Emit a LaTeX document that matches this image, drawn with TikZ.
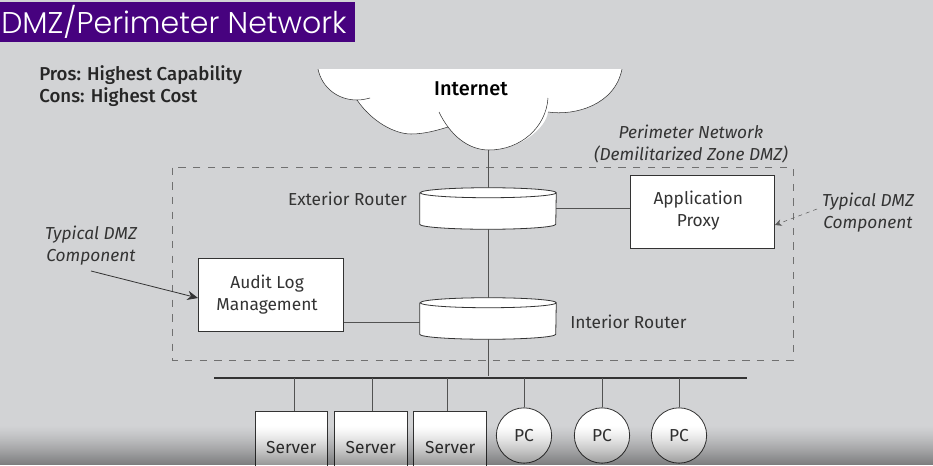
\documentclass[tikz,border=0pt]{standalone}
\usepackage{fontspec}
\setmainfont{Fira Sans}
\newfontfamily\titlefont{Poppins Light}
\newfontfamily\headfont{Fira Sans Medium}
\usetikzlibrary{positioning}
\usetikzlibrary{arrows.meta}
\definecolor{slide}{HTML}{D2D3D5}
\definecolor{banner}{HTML}{47027F}
\definecolor{ink}{HTML}{333333}
\newcommand{\boxtext}[1]{\begin{tabular}{@{}c@{\hspace{6pt}}}#1\end{tabular}}

\begin{document}
\begin{tikzpicture}[
x=.75pt,y=-.75pt,
box/.style={
	% The shape:
	rectangle,
	% The border:
	draw=ink,semithick,fill=white,
	align=center,inner sep=0pt,
	% Font
	font=\fontsize{13}{16.5}\selectfont,text=ink},
pc/.style={
	circle,draw=ink,semithick,fill=white,minimum size=41.5pt,inner sep=0pt,
	font=\fontsize{13}{14}\selectfont,text=ink},
router/.style={
	rectangle,minimum width=102pt,minimum height=30.75pt,inner sep=0pt},
label/.style={
	align=center,inner sep=0pt,text=ink,
	font=\fontsize{13}{16.5}\selectfont},
note/.style={
	align=center,inner sep=0pt,text=ink,
	font=\fontsize{13}{16.5}\selectfont\itshape},
wire/.style={draw=ink!85,semithick},
>={Stealth[length=8pt,width=7pt]},
]

\fill[slide] (0,0) rectangle (933,465);
\useasboundingbox (0,0) rectangle (933,465);

\node (banner) [fill=banner,anchor=north west,minimum width=266pt,minimum height=29.5pt,inner sep=0pt] at (0,2) {};
\node (title) [anchor=west,text=white,inner sep=0pt,font=\titlefont\fontsize{22.5}{26}\selectfont] at (1,22) {DMZ/Perimeter Network};

\node (pros) [anchor=north west,inner sep=0pt,align=left,text=black!85,font=\headfont\fontsize{14}{16.5}\selectfont] at (39,65.5) {Pros: Highest Capability\\Cons: Highest Cost};

% the cloud
\begin{scope}
\clip (300,69) rectangle (660,160);
\fill[white] (318,69) .. controls (322,88) and (338,100) .. (357,100)
	.. controls (372,122) and (395,134) .. (411,134)
	.. controls (425,134) and (438,130) .. (448,127)
	.. controls (458,140) and (472,150) .. (489,150)
	.. controls (520,150) and (546,128) .. (548,112)
	.. controls (575,116) and (615,105) .. (622,69) -- cycle;
\draw[ink] (318,69) .. controls (322,88) and (338,100) .. (357,100) .. controls (362,100) and (366,99) .. (370,98);
\draw[ink] (357,100) .. controls (372,122) and (395,134) .. (411,134) .. controls (425,134) and (438,130) .. (448,127);
\draw[ink] (439,112) .. controls (450,135) and (468,150) .. (489,150) .. controls (520,150) and (546,128) .. (548,98);
\draw[ink] (548,112) .. controls (575,116) and (615,105) .. (622,69);
\end{scope}
\node (internet) [inner sep=0pt,text=black,font=\headfont\fontsize{15}{16}\selectfont] at (471,89) {Internet};
\coordinate (cloud) at (488,150);

\node (zone) [note] at (691,144) {Perimeter Network\\(Demilitarized Zone DMZ)};
\node (extR) [router] at (488,208.5) {};
\node (intR) [router] at (488,318.5) {};
\node (extL) [label,anchor=east] at (407,199) {Exterior Router};
\node (intL) [label,anchor=west] at (570,322) {Interior Router};
\node (proxy) [box,minimum width=108.5pt,minimum height=55pt,anchor=north west] at (629.5,174.5) {\boxtext{Application\\Proxy}};
\node (audit) [box,minimum width=109pt,minimum height=54.5pt,anchor=north west] at (198,258) {\boxtext{Audit Log\\Management}};
\node (noteL) [note] at (91,246) {Typical DMZ\\Component};
\node (noteR) [note] at (868,212.5) {Typical DMZ\\Component};

\draw[draw=ink!70,dash pattern=on 5.5pt off 5.5pt] (172,167.5) rectangle (793,360);

\coordinate (busL) at (214,378);
\coordinate (busR) at (747,378);
\draw[ink,thick] (busL) -- (busR);

\draw[wire] (cloud) -- (extR.north);
\draw[wire] (extR.south) -- (intR.north);
\draw[wire] (intR.south) -- (488,376);
\draw[wire] (extR.east) -- (proxy.west |- extR.east);
\draw[wire] (audit.east |- 0,322) -- (intR.west |- 0,322);

% both routers are drawn the same way
\foreach \n in {extR,intR}
	\draw[ink,semithick,fill=white] ([yshift=-3.75pt]\n.north west) -- ([yshift=3.75pt]\n.south west)
		arc[start angle=180,end angle=360,x radius=51pt,y radius=3.75pt]
		-- ([yshift=-3.75pt]\n.north east)
		arc[start angle=0,end angle=180,x radius=51pt,y radius=3.75pt]
		arc[start angle=180,end angle=360,x radius=51pt,y radius=3.75pt];

\node (srvA) [box,minimum width=54.5pt,minimum height=55pt,anchor=north west] at (254.5,410.5) {Server};
\node (srvB) [box,minimum width=54.5pt,minimum height=55pt,right=4.5pt of srvA] {Server};
\node (srvC) [box,minimum width=54.5pt,minimum height=55pt,right=4.5pt of srvB] {Server};
\node (pcA) [pc] at (524,435.5) {PC};
\node (pcB) [pc] at (602,435.5) {PC};
\node (pcC) [pc] at (679,435.5) {PC};
\foreach \n/\x in {srvA/294,srvB/372,srvC/447}
	\draw[wire] (\n.north -| \x,0) -- (\x,0 |- busL);
\foreach \n in {pcA,pcB,pcC}
	\draw[wire] (\n.north) -- (\n.north |- busL);

\coordinate (noteLfoot) at (91,271);
\draw[->,ink,semithick] (noteLfoot) -- (audit.west |- 0,298);
\coordinate (noteRfoot) at (817,209);
\draw[-{Stealth[length=5pt,width=5pt]},ink!80,dash pattern=on 3pt off 3pt] (noteRfoot) -- (proxy.east |- 0,225);

% darker band along the lower edge
\foreach \i in {0,...,39}{
	\pgfmathsetmacro{\shade}{.4*(\i/39)^1.3}
	\fill[black,opacity=\shade] (0,425+\i) rectangle (933,426+\i);
}

\end{tikzpicture}
\end{document}
